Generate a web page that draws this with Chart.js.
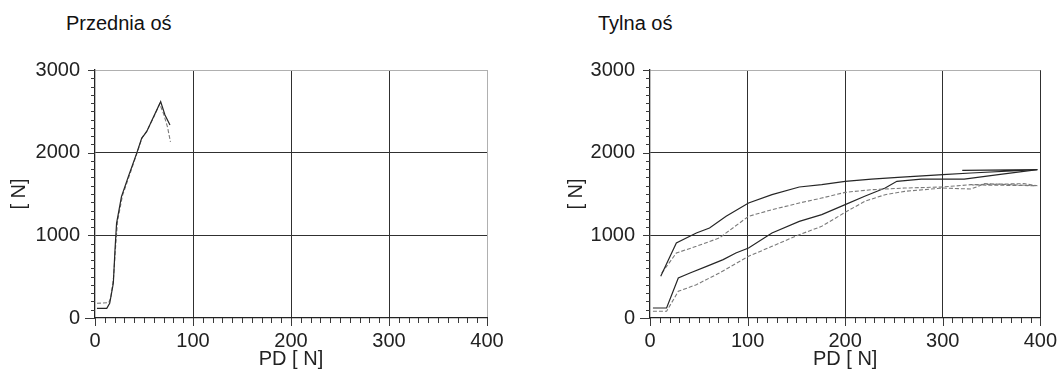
<!DOCTYPE html>
<html><head><meta charset="utf-8">
<script src="https://cdn.jsdelivr.net/npm/chart.js@4"></script>
<style>
html,body{margin:0;padding:0;background:#fff;}
body{width:1063px;height:376px;position:relative;overflow:hidden;font-family:'Liberation Sans',Arial,sans-serif;}
.title{position:absolute;font-size:20px;line-height:20px;color:#111;white-space:nowrap;}
.wrap{position:absolute;top:0;height:376px;}
</style></head><body>
<div class="title" style="left:66px;top:13px">Przednia oś</div>
<div class="title" style="left:598px;top:13px">Tylna oś</div>
<div class="wrap" style="left:0;width:531px"><canvas id="c1"></canvas></div>
<div class="wrap" style="left:531px;width:532px"><canvas id="c2"></canvas></div>
<script>
// ---- data ----
const xTickLabels = [0, 100, 200, 300, 400];
const yTickLabels = [0, 1000, 2000, 3000];
const xMinorStep = 10;
const yMinorStep = 100;
const xAxisTitle = 'PD [ N]';
const yAxisTitle = '[ N]';

// Przednia oś (front axle)
const frontAX = [2, 12, 15, 18.7, 20.4, 22, 27, 34, 42.5, 47.6, 52.7, 60, 67, 71.4, 76.5];
const frontAY = [117, 117, 178, 420, 823, 1145, 1468, 1710, 1992, 2174, 2254, 2440, 2617, 2456, 2335];
const frontBX = [2, 14, 16, 19, 21, 23, 28, 35, 43, 48, 53, 60, 66, 70, 74, 77];
const frontBY = [178, 185, 240, 500, 860, 1170, 1480, 1720, 2000, 2180, 2265, 2430, 2590, 2470, 2310, 2130];

// Tylna oś (rear axle)
const rearUpperSolidX = [11, 27, 47.5, 61, 78, 101, 125, 153, 176, 200, 227, 254, 300, 329, 397, 320];
const rearUpperSolidY = [504, 907, 1028, 1089, 1230, 1391, 1492, 1585, 1613, 1653, 1681, 1701, 1734, 1754, 1794, 1785];
const rearUpperDashX = [12, 27, 47.5, 71, 101, 125, 153, 176, 200, 227, 261, 300, 329, 383, 397, 330];
const rearUpperDashY = [544, 786, 867, 968, 1230, 1310, 1391, 1451, 1520, 1552, 1572, 1585, 1613, 1625, 1600, 1610];
const rearLowerSolidX = [3, 17, 29, 41, 58, 75, 88, 101, 125, 153, 176, 200, 220, 241, 253, 278, 322, 357, 397];
const rearLowerSolidY = [121, 121, 484, 544, 625, 706, 786, 847, 1028, 1169, 1250, 1371, 1472, 1572, 1653, 1681, 1681, 1734, 1794];
const rearLowerDashX = [3, 17, 29, 47.5, 71, 101, 125, 153, 176, 200, 220, 241, 261, 300, 329, 343, 397];
const rearLowerDashY = [81, 81, 323, 403, 544, 746, 867, 1008, 1109, 1278, 1411, 1492, 1532, 1572, 1560, 1625, 1600];

// ---- build ----
const pts = (xs, ys) => xs.map((x, i) => ({x, y: ys[i]}));
const FONT = "'Liberation Sans', Arial, sans-serif";
const solid = (d) => ({data: d, borderColor: '#262626', borderWidth: 1.2, pointRadius: 0, tension: 0, fill: false});
const dashed = (d) => ({data: d, borderColor: '#7a7a7a', borderWidth: 1.1, borderDash: [4, 2], pointRadius: 0, tension: 0, fill: false});

// minor / major tick marks drawn from the scales
const tickMarks = {
  id: 'tickMarks',
  afterDraw(chart) {
    const {ctx} = chart;
    const x = chart.scales.x, y = chart.scales.y;
    ctx.save();
    ctx.strokeStyle = '#3a3a3a';
    ctx.lineWidth = 1;
    for (let v = x.min; v <= x.max + 1e-9; v += xMinorStep) {
      const px = Math.round(x.getPixelForValue(v)) + 0.5;
      const len = (v % 100 === 0) ? 8 : 5;
      ctx.beginPath(); ctx.moveTo(px, x.top); ctx.lineTo(px, x.top + len); ctx.stroke();
    }
    for (let v = y.min; v <= y.max + 1e-9; v += yMinorStep) {
      const py = Math.round(y.getPixelForValue(v)) + 0.5;
      const len = (v === 0) ? 10 : (v % 1000 === 0 ? 7 : 4);
      ctx.beginPath(); ctx.moveTo(y.right, py); ctx.lineTo(y.right - len, py); ctx.stroke();
    }
    ctx.restore();
  }
};

function makeChart(id, datasets, target, darkRight) {
  const H = 376;
  const chart = new Chart(document.getElementById(id), {
    type: 'line',
    data: {datasets},
    plugins: [tickMarks],
    options: {
      responsive: true, maintainAspectRatio: false, animation: false,
      layout: {padding: {top: 70, right: 10, left: 0, bottom: 0}},
      plugins: {legend: {display: false}, tooltip: {enabled: false}},
      scales: {
        x: {
          type: 'linear', min: 0, max: 400,
          ticks: {stepSize: 100, autoSkip: false, maxRotation: 0, padding: 6,
            color: '#222', font: {family: FONT, size: 20},
            callback: v => xTickLabels.includes(v) ? String(v) : ''},
          grid: {drawTicks: true, tickLength: 5, lineWidth: 1,
            color: c => { const v = c.tick ? c.tick.value : -1;
              if (v > 0 && v % 100 === 0) return (v === 400 && !darkRight) ? '#b0b0b0' : '#303030';
              return 'rgba(0,0,0,0)'; },
            tickColor: 'rgba(0,0,0,0)'},
          border: {color: '#222', width: 1.3},
          title: {display: true, text: xAxisTitle, color: '#222', font: {family: FONT, size: 20}, padding: {top: 0, bottom: 5}},
          afterFit: s => { s.height = H - target.bottom; }
        },
        y: {
          type: 'linear', min: 0, max: 3000,
          ticks: {stepSize: 1000, autoSkip: false, padding: 10,
            color: '#222', font: {family: FONT, size: 20},
            callback: v => yTickLabels.includes(v) ? String(v) : ''},
          grid: {drawTicks: true, tickLength: 5, lineWidth: 1,
            color: c => { const v = c.tick ? c.tick.value : -1;
              if (v === 3000) return '#b0b0b0';
              if (v > 0 && v % 1000 === 0) return '#303030';
              return 'rgba(0,0,0,0)'; },
            tickColor: 'rgba(0,0,0,0)'},
          border: {color: '#222', width: 1.3},
          title: {display: true, text: yAxisTitle, color: '#222', font: {family: FONT, size: 20}, padding: {top: target.yTitle - 12, bottom: 0}},
          afterFit: s => { s.width = target.left; }
        }
      }
    }
  });
  for (let i = 0; i < 6; i++) {
    const a = chart.chartArea, p = chart.options.layout.padding;
    const dt = target.top - a.top, dr = a.right - target.right;
    if (Math.abs(dt) < 0.3 && Math.abs(dr) < 0.3) break;
    p.top = Math.max(0, p.top + dt);
    p.right = Math.max(0, p.right + dr);
    chart.update('none');
  }
  return chart;
}

makeChart('c1', [
  solid(pts(frontAX, frontAY)),
  dashed(pts(frontBX, frontBY))
], {left: 95, right: 487, top: 70, bottom: 318, yTitle: 19}, false);

makeChart('c2', [
  solid(pts(rearUpperSolidX, rearUpperSolidY)),
  dashed(pts(rearUpperDashX, rearUpperDashY)),
  solid(pts(rearLowerSolidX, rearLowerSolidY)),
  dashed(pts(rearLowerDashX, rearLowerDashY))
], {left: 650 - 531, right: 1043 - 531, top: 70, bottom: 318, yTitle: 576 - 531}, true);
</script>
</body></html>
